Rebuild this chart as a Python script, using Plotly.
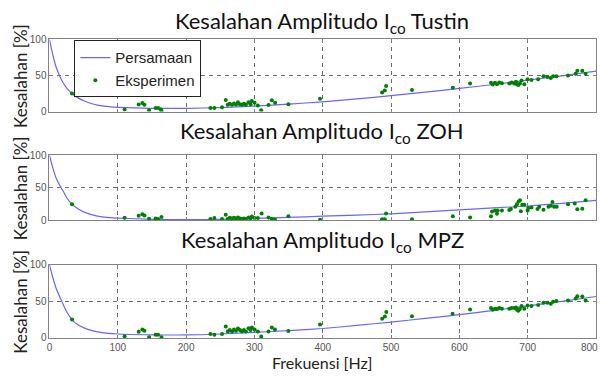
import plotly.graph_objects as go

# ---------------- data ----------------
titles = ["Kesalahan Amplitudo I<sub>co</sub> Tustin",
          "Kesalahan Amplitudo I<sub>co</sub> ZOH",
          "Kesalahan Amplitudo I<sub>co</sub> MPZ"]

# "Persamaan" curves
tustin_curve_f = [0, 5, 10, 15, 20, 25, 33, 40, 50, 60, 70, 80, 90, 100, 125, 150, 200, 250, 300,
                  350, 400, 450, 500, 550, 600, 650, 700, 750, 800]
tustin_curve_v = [100, 78, 61, 49, 40, 33, 25, 20, 15, 11.5, 9, 7.5, 6.5, 5.8, 5, 4.5, 4.5, 5.5, 7.5,
                  10.3, 13.5, 17.5, 22, 26.8, 32, 37.5, 43.5, 49.5, 56]

zoh_curve_f = [0, 5, 10, 17, 20, 25, 33, 40, 50, 60, 70, 80, 100, 150, 200, 250, 300,
               350, 400, 450, 500, 550, 600, 650, 700, 750, 800]
zoh_curve_v = [100, 80, 64, 50, 45, 35, 24.7, 19, 13, 9, 6.5, 5, 3.5, 1.5, 1, 1.5, 3,
               4.5, 6.3, 8, 10, 13, 16, 19, 22, 26, 30.5]

mpz_curve_f = [0, 5, 10, 18, 25, 33, 40, 50, 60, 75, 100, 150, 200, 250, 300,
               350, 400, 450, 500, 550, 600, 650, 700, 750, 800]
mpz_curve_v = [100, 82, 67, 50, 36, 25, 19, 14, 10.5, 7.5, 5.3, 4.2, 4, 5.3, 7.5,
               10, 12.8, 17, 21.6, 26.5, 31.7, 37.5, 43.6, 49.8, 56.4]

# "Eksperimen" points
tustin_exp_f = [33, 110, 130.6, 136, 139, 145.8, 155.4, 159, 162.7, 164,
                235.6, 241.4, 252.6, 258, 260.9, 263.8, 267.2, 270.1, 273, 275.9, 278.8, 281.7,
                284.6, 287.5, 291.4, 294.3, 296.3, 300.2, 305, 309.9, 320.6, 325.5, 330.3, 349.7, 396,
                486.9, 490.8, 492.7, 530.6, 590.4, 615.7, 646.3, 648.7, 652.1, 655, 658.4, 662.3,
                673, 676.4, 680.3, 682.8, 684.2, 686.2, 688.6, 691, 695, 699.8, 705.6, 715.3,
                723.1, 728.9, 733.8, 737.2, 742, 759, 770.2, 772.6, 779.9, 784.7]
tustin_exp_v = [25, 2.7, 9.8, 12, 9.4, 1.8, 4.9, 4.9, 3.1, 1,
                4.9, 4.9, 5.8, 16.1, 9.4, 10.7, 9.4, 11.2, 9.8, 13, 10.3, 9.4,
                10.7, 9.4, 13, 10.3, 14.8, 12.1, 8.5, 1.8, 9, 15.7, 12.1, 10.3, 17.9,
                26.4, 29.1, 35.3, 30, 33.1, 38.9, 39.8, 37.6, 39.8, 38, 40.3, 39.4,
                38.9, 40.3, 38.9, 41.2, 38, 36.7, 38.9, 42.9, 38, 44.7, 43.8, 44.7,
                48.8, 47.9, 46.5, 48.8, 48.8, 50.1, 52.4, 56.4, 56.4, 52.4]

zoh_exp_f = [33, 110, 130.6, 136, 139, 145.8, 155.4, 159, 164,
             235.6, 241.4, 252.6, 258, 261, 264, 267.2, 270.1, 273, 275.9, 278.8, 281.7,
             284.6, 287.5, 291.4, 294.3, 296.3, 300.2, 305, 310.5, 320.6, 325.5, 330, 349.7, 396,
             486.9, 490.8, 492.7, 530.6, 590.4, 615.7, 646.3, 647.8, 652.1, 655, 656, 662.3,
             673, 675.4, 681.9, 684.2, 686.7, 688.6, 690, 692, 695, 699.8, 700.8, 705.6,
             714.4, 716.8, 723.1, 730.4, 733.8, 736.2, 738.6, 742.5, 759, 768.8, 772.6, 779.9, 784.7]
zoh_exp_v = [24.7, 3.9, 6.9, 9.4, 7.4, 2.4, 2.9, 1.9, 4.9,
             1.9, 3.4, 1.9, 8.4, 1.9, 3.9, 2.9, 3.9, 2.9, 4.4, 2.9, 1.9,
             2.9, 1.9, 4.4, 2.9, 5.9, 3.4, 3.4, 10.4, 4.4, 1.9, 1.4, 6.4, 0.9,
             1.5, 1.5, 10.4, 1.5, 6.4, 4.4, 6.4, 13.4, 14.9, 9.9, 14.9, 14.9,
             15.9, 17.4, 20.8, 24.8, 28.7, 30.7, 13.9, 23.8, 23.8, 14.9, 18.9, 19.8,
             17.4, 20.8, 16.4, 20.8, 22.3, 28.2, 20.8, 20.8, 24.8, 25.8, 16.9, 17.8, 30.7]

mpz_exp_f = [33, 110, 130.6, 136, 139, 145.8, 155.4, 159, 164,
             235.6, 241.4, 252.6, 258, 261, 264, 267.2, 270.1, 273, 275.9, 278.8, 281.7,
             284.6, 287.5, 291.4, 294.3, 296.3, 300.2, 305, 310, 320.6, 325.5, 330, 349.7, 396,
             487, 491, 493, 530.6, 590, 615.7, 646.3, 648.7, 652.1, 655, 658.4, 662.3,
             673, 676.4, 680.3, 682.8, 684.2, 686.2, 688.6, 691, 695, 699.8, 705.6, 715.3,
             723.1, 728.9, 733.8, 737.2, 742, 759, 770.2, 772.6, 779.9, 784.7]
mpz_exp_v = [25.1, 2.2, 8.4, 11.5, 9.7, 0.9, 4.4, 4.4, 0.9,
             5.3, 4.4, 5.3, 15.4, 8.8, 10.6, 8.8, 11.5, 9.7, 12.8, 10.6, 8.8,
             10.6, 8.8, 13.2, 10.6, 14.1, 11.5, 8.8, 1.8, 8.8, 14.1, 11.5, 9.3, 18.3,
             26, 29.1, 35.3, 29.5, 33, 38.8, 40.6, 38.4, 39.7, 39.3, 40.6, 39.7,
             39.7, 40.6, 40.6, 41.5, 38.4, 37.1, 39.3, 43.6, 39.7, 44.1, 43.6, 44.9,
             48, 48, 46.7, 49.4, 50.3, 51.1, 53.8, 56.8, 56.4, 51.1]

x_ticks = [0, 100, 200, 300, 400, 500, 600, 700]
x_last_tick = 800
y_ticks = [0, 50, 100]

curves = [(tustin_curve_f, tustin_curve_v), (zoh_curve_f, zoh_curve_v), (mpz_curve_f, mpz_curve_v)]
exps = [(tustin_exp_f, tustin_exp_v), (zoh_exp_f, zoh_exp_v), (mpz_exp_f, mpz_exp_v)]

# ---------------- layout geometry ----------------
W, H = 601, 380
x_dom = [46.7 / W, 596 / W]
panels_px = [(34.5, 109), (154, 221.3), (267, 342.7)]   # top, bottom in px
y_doms = [[1 - b / H, 1 - t / H] for t, b in panels_px]
title_y_px = [17, 130, 243]

LINE_COLOR = "rgb(102,102,255)"
MARK_COLOR = "rgb(0,128,0)"
GRID = "rgb(110,110,110)"
BOX = "rgb(130,130,130)"

fig = go.Figure()
for i in range(3):
    xa = "x" if i == 0 else f"x{i+1}"
    ya = "y" if i == 0 else f"y{i+1}"
    cf, cv = curves[i]
    ef, ev = exps[i]
    fig.add_trace(go.Scatter(x=cf, y=cv, mode="lines", name="Persamaan",
                             line=dict(color=LINE_COLOR, width=1.2, shape="spline", smoothing=0.6),
                             xaxis=xa, yaxis=ya, showlegend=(i == 0)))
    fig.add_trace(go.Scatter(x=ef, y=ev, mode="markers", name="Eksperimen",
                             marker=dict(color=MARK_COLOR, size=4),
                             xaxis=xa, yaxis=ya, showlegend=(i == 0)))

layout = dict(
    width=W, height=H,
    margin=dict(l=0, r=0, t=0, b=0),
    paper_bgcolor="white", plot_bgcolor="white",
    font=dict(family="Liberation Sans, Arial", color="#333"),
    legend=dict(x=71.7 / W, y=1 - 35.5 / H, xanchor="left", yanchor="top",
                bgcolor="white", bordercolor="#222", borderwidth=1,
                font=dict(family="Liberation Sans, Arial", size=15, color="#222"),
                tracegroupgap=0),
    annotations=[],
)

for i in range(3):
    xkey = "xaxis" if i == 0 else f"xaxis{i+1}"
    ykey = "yaxis" if i == 0 else f"yaxis{i+1}"
    layout[xkey] = dict(
        domain=x_dom, range=[0, 800], anchor="y" if i == 0 else f"y{i+1}",
        tickvals=x_ticks, showticklabels=(i == 2),
        ticks="inside", ticklen=3, tickcolor=BOX,
        showline=True, linecolor=BOX, linewidth=1, mirror="ticks",
        showgrid=True, gridcolor=GRID, griddash="4px,4px", gridwidth=1,
        zeroline=False, tickfont=dict(size=10, color="#555"),
    )
    layout[ykey] = dict(
        domain=y_doms[i], range=[0, 100], anchor="x" if i == 0 else f"x{i+1}",
        tickvals=y_ticks,
        ticks="inside", ticklen=3, tickcolor=BOX,
        showline=True, linecolor=BOX, linewidth=1, mirror="ticks",
        showgrid=True, gridcolor=GRID, griddash="4px,4px", gridwidth=1,
        zeroline=False, tickfont=dict(size=10, color="#555"),
    )
    layout["annotations"].append(dict(
        text=titles[i], xref="paper", yref="paper",
        x=321 / W, y=1 - title_y_px[i] / H, xanchor="center", yanchor="middle",
        showarrow=False, font=dict(family="Lato, Open Sans", size=22, color="#111")))
    t, b = panels_px[i]
    layout["annotations"].append(dict(
        text="Kesalahan [%]", xref="paper", yref="paper",
        x=17.5 / W, y=1 - ((t + b) / 2) / H, xanchor="center", yanchor="middle",
        textangle=-90, showarrow=False,
        font=dict(family="Lato, Open Sans", size=17, color="#222")))

# last x tick label at the right edge (kept fully inside the picture)
layout["annotations"].append(dict(
    text=str(x_last_tick), xref="x3", yref="paper", x=x_last_tick, y=1 - 342.7 / H,
    xanchor="right", yanchor="top", xshift=4, yshift=-2, showarrow=False,
    font=dict(family="Liberation Sans, Arial", size=10, color="#555")))

layout["annotations"].append(dict(
    text="Frekuensi [Hz]", xref="paper", yref="paper",
    x=321 / W, y=1 - 368 / H, xanchor="center", yanchor="middle",
    showarrow=False, font=dict(family="Lato, Open Sans", size=16, color="#222")))

fig.update_layout(**layout)
fig.write_html("out.html")
